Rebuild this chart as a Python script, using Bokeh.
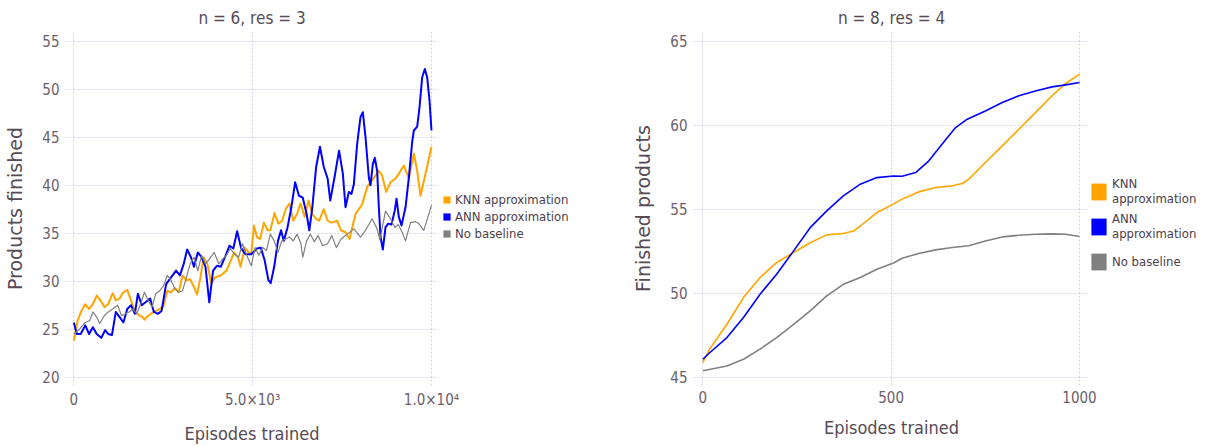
from bokeh.plotting import figure
from bokeh.layouts import row
from bokeh.models import Range1d, FixedTicker, Legend, LegendItem
from bokeh.embed import file_html
from bokeh.resources import INLINE

NAN = float("nan")

# ---------------- data: left panel (n = 6, res = 3) ----------------
knn6_x = [0, 107, 213, 320, 427, 533, 640, 747, 853, 960, 1088, 1174, 1280, 1387, 1494,
          1600, 1707, 1814, 1920, 1974, 2080, 2240, 2400, 2507, 2614, 2720, 2827, 2934,
          3040, 3147, 3254, 3360, 3446, 3542, 3627, 3734, 3841, 3947, 4108, 4268, 4374,
          4481, 4588, 4662, 4780, 4887, 4960, 5036, 5120, 5207, 5314, 5420, 5495, 5612,
          5719, 5826, 5922, 6028, 6135, 6242, 6338, 6455, 6562, 6669, 6775, 6860, 6989,
          7096, 7202, 7362, 7469, 7596, 7708, 7876, 8062, 8202, 8295, 8435, 8528, 8621,
          8733, 8854, 8994, 9087, 9227, 9367, 9507, 9600, 9693, 9833, 10000]
knn6_y = [23.8, 25.9, 26.9, 27.6, 27.1, 27.6, 28.5, 28.0, 27.3, 27.6, 28.75, 28.0, 28.2,
          28.85, 29.1, 28.0, 26.8, 26.5, 26.25, 26.0, 26.4, 26.8, 27.1, 27.4, 29.0, 28.85,
          29.3, 28.85, 30.6, 30.1, 30.2, 29.4, 28.6, 30.4, 32.5, 31.8, 29.8, 30.4, 30.6,
          31.1, 32.0, 33.0, 32.5, 31.5, 33.5, 33.0, 32.8, 35.8, 34.6, 34.4, 36.1, 35.3,
          35.3, 37.1, 36.0, 36.3, 37.5, 38.1, 36.3, 37.0, 38.1, 36.7, 38.4, 37.0, 36.5,
          36.3, 37.5, 36.3, 36.1, 36.3, 35.3, 35.1, 34.4, 37.0, 38.0, 39.8, 40.3, 41.0,
          41.5, 41.0, 39.3, 40.3, 40.7, 41.2, 42.05, 40.7, 43.3, 41.5, 38.9, 41.2, 44.0]

ann6_x = [0, 85, 192, 320, 427, 533, 640, 768, 875, 960, 1067, 1174, 1280, 1387, 1494,
          1600, 1707, 1792, 1899, 2006, 2134, 2240, 2347, 2454, 2582, 2720, 2859, 2966,
          3073, 3169, 3275, 3360, 3467, 3574, 3681, 3788, 3894, 4001, 4108, 4246, 4353,
          4460, 4566, 4673, 4801, 4960, 5120, 5227, 5334, 5441, 5505, 5602, 5709, 5794,
          5869, 5975, 6082, 6188, 6295, 6402, 6509, 6584, 6669, 6775, 6882, 6989, 7096,
          7170, 7288, 7416, 7522, 7596, 7689, 7764, 7829, 7922, 8015, 8081, 8155, 8248,
          8295, 8360, 8416, 8481, 8528, 8575, 8640, 8714, 8789, 8882, 8975, 9022, 9087,
          9162, 9274, 9367, 9460, 9507, 9600, 9665, 9740, 9814, 9879, 9945, 10000]
ann6_y = [25.7, 24.5, 24.5, 25.4, 24.5, 25.2, 24.5, 24.1, 24.9, 24.5, 24.4, 26.8, 26.25,
          25.7, 27.1, 27.5, 26.6, 28.7, 27.5, 27.8, 28.2, 26.8, 26.6, 26.9, 29.7, 30.4,
          31.1, 30.6, 31.8, 33.3, 32.5, 31.5, 33.0, 32.5, 31.5, 27.8, 31.1, 31.6, 31.5,
          32.7, 33.7, 33.4, 35.2, 33.5, 32.8, 32.8, 33.4, 33.5, 32.2, 30.1, 29.8, 31.5,
          34.2, 35.3, 34.2, 35.6, 37.7, 40.3, 38.9, 38.7, 37.0, 35.3, 37.7, 41.9, 44.0,
          41.9, 40.7, 38.4, 40.8, 43.6, 41.2, 37.7, 39.3, 39.1, 40.1, 44.3, 47.1, 47.6,
          45.0, 40.8, 40.0, 42.2, 42.85, 41.5, 37.7, 34.6, 33.3, 35.6, 36.0, 35.9, 37.4,
          38.6, 36.7, 35.8, 37.7, 40.8, 44.5, 45.7, 46.1, 48.1, 51.25, 52.1, 51.25, 48.8,
          45.7]

nob6_x = [0, 160, 320, 448, 533, 640, 725, 853, 960, 1088, 1227, 1334, 1440, 1547, 1654,
          1760, 1867, 1974, 2080, 2187, 2294, 2400, 2507, 2614, 2720, 2827, 2934, 3040,
          3147, 3254, 3360, 3467, 3574, 3681, 3788, 3926, 4054, 4161, 4268, 4374, 4502,
          4609, 4716, 4822, 4960, 5067, 5174, 5281, 5388, 5495, 5602, 5709, 5815, 5922,
          6028, 6135, 6242, 6349, 6402, 6509, 6615, 6722, 6829, 6957, 7096, 7213, 7341,
          7469, 7596, 7829, 8015, 8155, 8342, 8481, 8556, 8714, 8854, 8975, 9069, 9180,
          9274, 9413, 9553, 9646, 9786, 10000]
nob6_y = [24.5, 25.0, 25.7, 25.9, 26.8, 26.25, 25.6, 26.4, 26.8, 27.1, 27.5, 26.4, 26.6,
          26.8, 27.1, 26.6, 27.6, 28.85, 28.0, 27.3, 28.7, 29.0, 29.5, 30.6, 30.1, 29.2,
          28.85, 29.0, 30.4, 31.8, 32.5, 31.1, 32.7, 31.8, 32.3, 33.0, 31.8, 32.3, 32.7,
          33.4, 32.8, 32.5, 33.9, 32.8, 31.6, 33.5, 32.7, 33.5, 33.2, 34.9, 34.2, 33.0,
          34.2, 34.4, 34.6, 34.2, 34.9, 33.9, 32.5, 34.2, 34.9, 34.1, 34.75, 33.7, 33.9,
          34.75, 33.5, 34.4, 34.75, 35.45, 34.6, 35.3, 36.5, 35.45, 34.3, 37.3, 36.5, 35.6,
          35.9, 35.1, 34.2, 36.1, 36.2, 36.0, 35.3, 37.9]

# ---------------- data: right panel (n = 8, res = 4) ----------------
knn8_x = [0, 19, 64, 108, 152, 196, 241, 285, 329, 373, 400, 418, 462, 506, 529, 573,
          618, 662, 689, 706, 750, 795, 839, 883, 927, 963, 1000]
knn8_y = [45.87, 46.7, 48.15, 49.74, 50.93, 51.83, 52.42, 53.0, 53.47, 53.55, 53.7, 54.0,
          54.8, 55.3, 55.6, 56.03, 56.29, 56.39, 56.53, 56.79, 57.78, 58.77, 59.76, 60.75,
          61.75, 62.48, 63.04]

ann8_x = [0, 19, 64, 108, 152, 196, 241, 285, 329, 373, 418, 462, 506, 529, 565, 600,
          635, 671, 702, 750, 795, 839, 883, 927, 963, 1000]
ann8_y = [46.07, 46.47, 47.36, 48.55, 49.94, 51.13, 52.52, 53.9, 54.9, 55.79, 56.49,
          56.88, 56.98, 56.96, 57.18, 57.88, 58.87, 59.86, 60.36, 60.85, 61.35, 61.75,
          62.04, 62.28, 62.4, 62.54]

nob8_x = [0, 64, 108, 152, 196, 241, 285, 329, 373, 418, 462, 506, 529, 573, 618, 662,
          706, 750, 795, 839, 883, 927, 963, 1000]
nob8_y = [45.38, 45.67, 46.07, 46.67, 47.36, 48.15, 48.95, 49.84, 50.53, 50.93, 51.43,
          51.8, 52.08, 52.36, 52.58, 52.72, 52.82, 53.11, 53.35, 53.45, 53.51, 53.53,
          53.51, 53.37]

series_names = ["KNN approximation", "ANN approximation", "No baseline"]
series_names_wrapped = ["KNN\napproximation", "ANN\napproximation", "No baseline"]
series_colors = ["#FFA500", "#0000FF", "#808080"]

left_xticks = [0, 5000, 10000]
left_xtick_labels = ["0", "5.0×10³", "1.0×10⁴"]
left_yticks = [20, 25, 30, 35, 40, 45, 50, 55]
right_xticks = [0, 500, 1000]
right_yticks = [45, 50, 55, 60, 65]

COND = "DejaVu Sans Condensed"
WIDE = "DejaVu Sans"
TICK_COLOR = "#6C606B"
LABEL_COLOR = "#564A55"
GRID_COLOR = "#D0D0E0"
LEGEND_TEXT = "#4C404B"
H = 446
TOP = 31
BOTTOM = 61
OVERHANG = 22   # room at the right of each plot so the last tick label is not pushed inward


def style(p, xticks, yticks, xlabel_overrides=None):
    p.outline_line_color = None
    p.background_fill_color = "white"
    p.border_fill_color = "white"
    p.title.align = "center"
    p.title.text_font = COND
    p.title.text_font_size = "17px"
    p.title.text_font_style = "normal"
    p.title.text_color = LABEL_COLOR
    p.title.standoff = 7
    p.xaxis.ticker = FixedTicker(ticks=xticks)
    p.yaxis.ticker = FixedTicker(ticks=yticks)
    if xlabel_overrides:
        p.xaxis.major_label_overrides = xlabel_overrides
    for ax in (p.xaxis, p.yaxis):
        ax.axis_line_color = None
        ax.major_tick_line_color = None
        ax.minor_tick_line_color = None
        ax.major_tick_out = 0
        ax.major_tick_in = 0
        ax.minor_tick_out = 0
        ax.minor_tick_in = 0
        ax.major_label_text_color = TICK_COLOR
        ax.major_label_text_font = COND
        ax.major_label_text_font_size = "15px"
        ax.axis_label_text_color = LABEL_COLOR
        ax.axis_label_text_font_style = "normal"
    p.xaxis.axis_label_text_font = COND
    p.xaxis.axis_label_text_font_size = "18px"
    p.xaxis.major_label_standoff = 5
    p.xaxis.axis_label_standoff = 11
    p.yaxis.axis_label_text_font = WIDE
    p.yaxis.axis_label_text_font_size = "19px"
    p.yaxis.major_label_standoff = 6
    p.yaxis.axis_label_standoff = 13
    for g in (p.xgrid, p.ygrid):
        g.grid_line_color = GRID_COLOR
        g.grid_line_dash = "2 2"
        g.grid_line_width = 1


def legend_figure(width, names, loc, glyph_w, glyph_h, label_h, spacing):
    f = figure(width=width, height=H, output_backend="svg", toolbar_location=None,
               x_axis_type=None, y_axis_type=None, x_range=Range1d(0, 1),
               y_range=Range1d(0, 1), min_border=0, margin=(0, 0, 0, -OVERHANG))
    f.outline_line_color = None
    f.background_fill_alpha = 0
    f.border_fill_alpha = 0
    f.xgrid.visible = False
    f.ygrid.visible = False
    items = []
    for n, c in zip(names, series_colors):
        # swatch renderer for the legend only: its single row holds NaN, so nothing is drawn
        r = f.quad(left=[NAN], right=[NAN], top=[NAN], bottom=[NAN],
                   fill_color=c, line_color=None)
        items.append(LegendItem(label=n, renderers=[r]))
    leg = Legend(items=items, location=loc, padding=0, margin=0, spacing=spacing,
                 glyph_width=glyph_w, glyph_height=glyph_h, label_height=label_h,
                 label_standoff=4, label_text_font=COND, label_text_font_size="13px",
                 label_text_color=LEGEND_TEXT, background_fill_alpha=0,
                 border_line_color=None)
    f.add_layout(leg)
    return f


# ---------------- left figure ----------------
p1 = figure(width=438 + OVERHANG, height=H, output_backend="svg", toolbar_location=None,
            title="n = 6, res = 3",
            x_range=Range1d(-232, 10196), y_range=Range1d(19.135, 56.01),
            min_border_left=65, min_border_right=OVERHANG, min_border_top=TOP,
            min_border_bottom=BOTTOM, x_axis_label="Episodes trained",
            y_axis_label="Products finished")
style(p1, left_xticks, left_yticks, dict(zip(left_xticks, left_xtick_labels)))

left_data = [(knn6_x, knn6_y, 2.0), (ann6_x, ann6_y, 2.0), (nob6_x, nob6_y, 1.2)]
for (xs, ys, w), c in zip(left_data, series_colors):
    p1.line(xs, ys, line_color=c, line_width=w, line_join="round")

l1 = legend_figure(162, series_names, (4, 143), 9, 9, 17, 0)

# ---------------- right figure ----------------
p2 = figure(width=489 + OVERHANG, height=H, output_backend="svg", toolbar_location=None,
            title="n = 8, res = 4",
            x_range=Range1d(-24.7, 1026.5), y_range=Range1d(44.506, 65.577),
            min_border_left=93, min_border_right=OVERHANG, min_border_top=TOP,
            min_border_bottom=BOTTOM, x_axis_label="Episodes trained",
            y_axis_label="Finished products")
style(p2, right_xticks, right_yticks)

right_data = [(knn8_x, knn8_y), (ann8_x, ann8_y), (nob8_x, nob8_y)]
for (xs, ys), c in zip(right_data, series_colors):
    p2.line(xs, ys, line_color=c, line_width=1.6, line_join="round")

l2 = legend_figure(118, series_names_wrapped, (0, 109), 19, 21, 30, 5)

layout = row(p1, l1, p2, l2)
open("out.html", "w").write(file_html(layout, INLINE))
